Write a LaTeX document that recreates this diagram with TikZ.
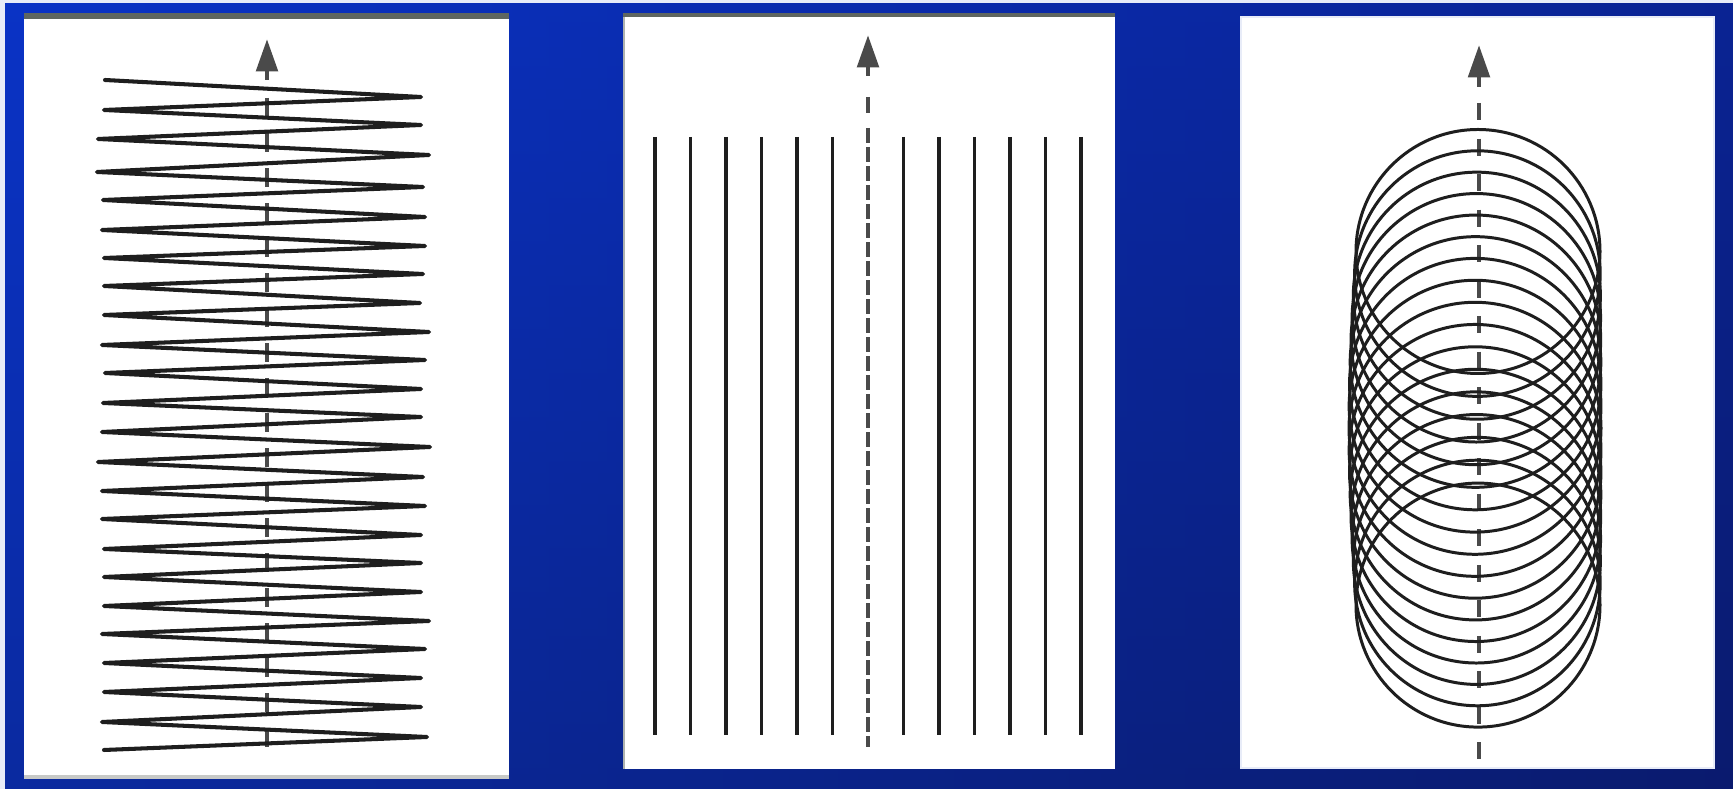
\documentclass[tikz,border=0pt]{standalone}
\usetikzlibrary{arrows.meta}
\definecolor{bgtop}{HTML}{0A2EB8}
\definecolor{bgbot}{HTML}{0A1C6C}
\definecolor{bgleft}{HTML}{0A38D4}
\definecolor{bgright}{HTML}{0A1A70}
\definecolor{ink}{HTML}{1E1E1E}
\definecolor{arrowgray}{HTML}{4A4A4A}
\definecolor{scangray}{HTML}{5F6660}
\definecolor{edgelight}{HTML}{E8ECF8}
\begin{document}
\begin{tikzpicture}[x=0.01cm,y=-0.01cm,
  panel/.style={fill=white},
  zig/.style={draw=ink,line width=1.15pt,line join=round,line cap=round},
  vline/.style={draw=ink,line width=1.0pt},
  ring/.style={draw=ink,line width=0.85pt},
  axisline/.style={draw=arrowgray,line width=1.15pt},
  axisarrow/.style={draw=arrowgray,line width=1.4pt,-{Triangle[length=9.2pt,width=6pt]}}]
\useasboundingbox (0,0) rectangle (1733,789);
% background
\shade[top color=bgtop,bottom color=bgbot] (0,0) rectangle (1733,789);
\shade[left color=bgleft,right color=bgright,opacity=0.5] (0,0) rectangle (1733,789);
\fill[edgelight] (0,0) rectangle (5,789);
\fill[edgelight] (0,0) rectangle (1733,3);

% ---------- panel 1 : zigzag ----------
\fill[panel] (24,13) rectangle (509,779);
\fill[scangray] (24,13) rectangle (509,19);
\fill[scangray,opacity=0.35] (24,775) rectangle (509,779);
\coordinate (p1tip) at (267,39);
\coordinate (p1base) at (267,80);
\draw[axisline,dash pattern=on 0.19cm off 0.16cm] (267,98) -- (267,750);
\draw[axisarrow] (p1base) -- (p1tip);
\draw[zig] (105,80) -- (421,97) -- (104,110) -- (421,125) -- (98,139) -- (429,155)
  -- (97,172) -- (423,187) -- (103,200) -- (425,217) -- (102,230) -- (425,246)
  -- (104,258) -- (423,274) -- (104,286) -- (420,303) -- (104,315) -- (429,332)
  -- (102,345) -- (425,360) -- (105,373) -- (421,389) -- (103,403) -- (421,417)
  -- (102,432) -- (430,447) -- (98,462) -- (423,477) -- (102,491) -- (425,506)
  -- (102,519) -- (421,535) -- (104,549) -- (421,563) -- (104,577) -- (421,592)
  -- (104,606) -- (429,621) -- (102,634) -- (425,649) -- (104,663) -- (421,678)
  -- (104,692) -- (421,707) -- (102,722) -- (427,737) -- (104,750);

% ---------- panel 2 : parallel lines ----------
\fill[panel] (623,14) rectangle (1115,769);
\fill[scangray] (623,13) rectangle (1115,17);
\fill[scangray,opacity=0.5] (623,14) rectangle (625,769);
\coordinate (p2tip) at (868,35);
\coordinate (p2base) at (868,76);
\draw[axisarrow] (p2base) -- (p2tip);
\draw[axisline] (868,97) -- (868,113);
\draw[axisline,dash pattern=on 0.15cm off 0.04cm] (868,128) -- (868,747);
\foreach \k in {0,...,5,7,8,...,12}
  \draw[vline] ({655+35.5*\k},137) -- ({655+35.5*\k},735);

% ---------- panel 3 : rings ----------
\fill[panel] (1241,17) rectangle (1714,768);
\draw[edgelight,line width=0.6pt] (1241,17) rectangle (1714,768);
\coordinate (p3tip) at (1479,45);
\coordinate (p3base) at (1479,87);
\draw[axisline,dash pattern=on 0.17cm off 0.185cm] (1479,103) -- (1479,760);
\draw[axisarrow] (p3base) -- (p3tip);
\foreach \i in {0,...,16} {
  \pgfmathsetmacro\s{sin(180*\i/16)}
  \pgfmathsetmacro\r{122+4*\s}
  \pgfmathsetmacro\cx{1478-3*\s}
  \pgfmathsetmacro\cy{251.5+22.1*\i}
  \draw[ring] (\cx,\cy) circle[radius=\r];
}
\end{tikzpicture}
\end{document}
